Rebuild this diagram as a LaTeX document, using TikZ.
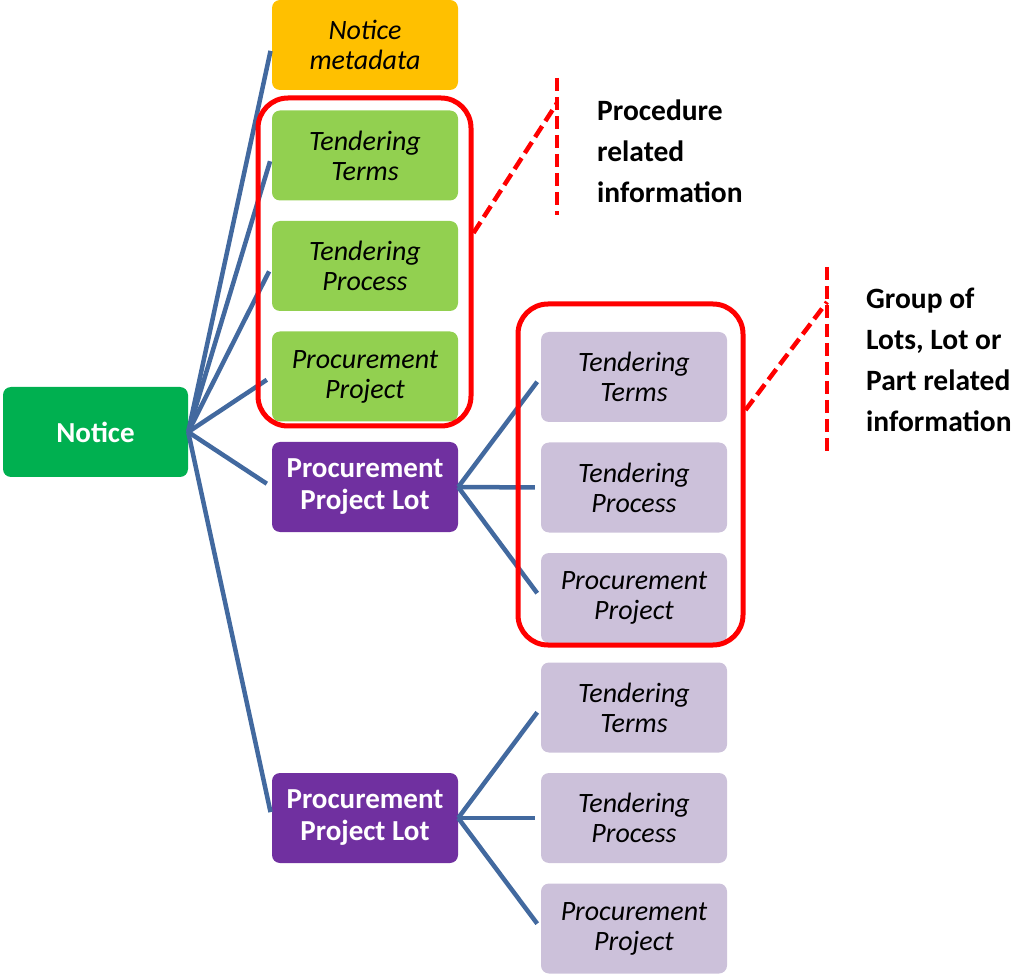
\documentclass[tikz,border=0pt]{standalone}
\usepackage{fontspec}
\setmainfont{Carlito}
\usetikzlibrary{calc}
\definecolor{noticegreen}{HTML}{00B050}
\definecolor{leafgreen}{HTML}{92D050}
\definecolor{metaorange}{HTML}{FFC000}
\definecolor{lotpurple}{HTML}{7030A0}
\definecolor{lilac}{HTML}{CCC1DA}
\definecolor{linkblue}{HTML}{42699F}
\definecolor{markred}{HTML}{FF0000}

\begin{document}
\begin{tikzpicture}[x=1pt,y=-1pt,
    box/.style={rounded corners=8pt,minimum width=186pt,minimum height=90pt,inner sep=0pt,align=center,
      font={\fontsize{28}{30}\selectfont\itshape}},
    subbox/.style={box,fill=lilac},
    headbox/.style={box,text=white,font={\fontsize{29}{32}\selectfont\bfseries}},
    link/.style={draw=linkblue,line width=4.5pt,shorten >=6pt},
    groupbox/.style={draw=markred,line width=5pt,rounded corners=30pt,inner sep=0pt},
    callout/.style={markred,line width=4.5pt,dash pattern=on 13pt off 6pt},
    note/.style={anchor=west,inner sep=0pt,align=left,font={\fontsize{29.5}{41}\selectfont\bfseries}}]
  \useasboundingbox (0,0) rectangle (1013,976);
  \node[headbox,fill=noticegreen,minimum width=185pt] (notice) at (95.5,432) {Notice};
  \node[box,fill=metaorange] (meta) at (365,45) {Notice\\metadata};
  \foreach \n/\y/\t in {terms/155.5/{Tendering\\Terms},process/266/{Tendering\\Process},project/376.5/{Procurement\\Project}}
    \node[box,fill=leafgreen] (\n) at (365,\y) {\t};
  \node[headbox,fill=lotpurple] (lotA) at (365,487) {Procurement\\Project Lot};
  \node[headbox,fill=lotpurple] (lotB) at (365,818) {Procurement\\Project Lot};
  \foreach \c in {meta,terms,process,project,lotA,lotB}
    \draw[link] (notice.east) -- (\c.west);
  \foreach \l/\y in {A/377,B/707.5}{
    \node[subbox] (terms\l) at (634,\y) {Tendering\\Terms};
    \node[subbox] (process\l) at (634,\y+110.5) {Tendering\\Process};
    \node[subbox] (project\l) at (634,\y+221) {Procurement\\Project};
    \foreach \c in {terms,process,project}
      \draw[link] (lot\l.east) -- (\c\l.west);
  }
  \node[groupbox,minimum width=213pt,minimum height=328pt] (procgroup) at (364.5,262) {};
  \node[groupbox,minimum width=225pt,minimum height=341pt] (lotgroup) at (630.5,474.5) {};
  \coordinate (procTop) at (557,78);
  \coordinate (procBot) at (557,215);
  \coordinate (procMark) at (557,103);
  \coordinate (lotTop) at (827,267);
  \coordinate (lotBot) at (827,452);
  \coordinate (lotMark) at (827,302);
  \draw[callout] (procTop) -- (procBot);
  \draw[callout] ([yshift=29pt]procgroup.east) -- (procMark);
  \draw[callout] (lotTop) -- (lotBot);
  \draw[callout] ([yshift=64.5pt]lotgroup.east) -- (lotMark);
  \node[note] (procnote) at (597,151) {Procedure\\related\\information};
  \node[note] (lotnote) at (866,359.5) {Group of\\Lots, Lot or\\Part related\\information};
\end{tikzpicture}
\end{document}
